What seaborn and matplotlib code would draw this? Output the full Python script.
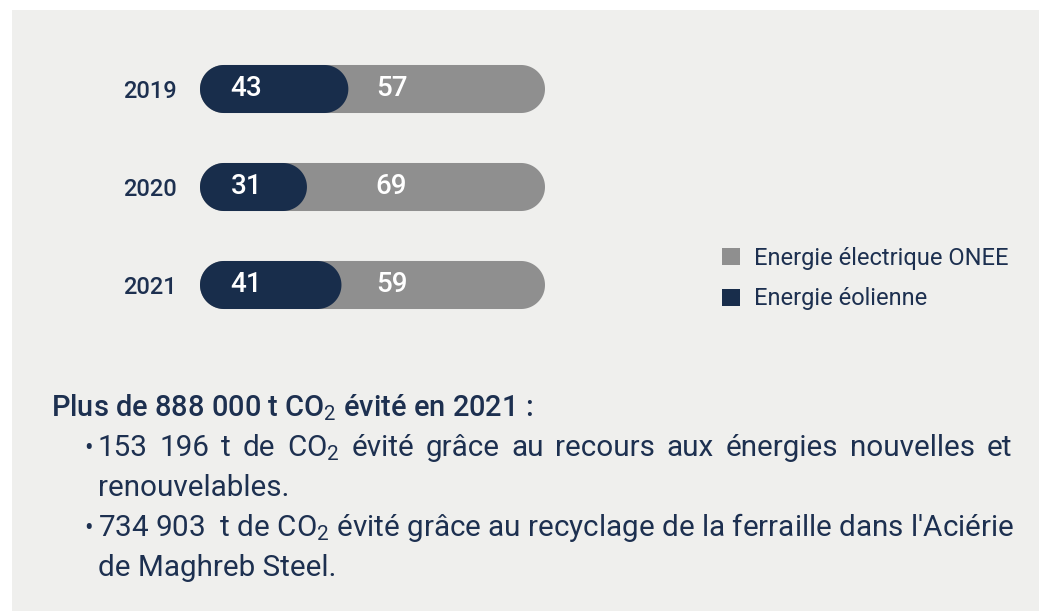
import matplotlib
matplotlib.use("Agg")
import matplotlib.pyplot as plt
import seaborn as sns
import pandas as pd
import numpy as np
from matplotlib.patches import Patch, Rectangle, Polygon

# ---------------- data ----------------
years = ["2019", "2020", "2021"]
eolienne = [43, 31, 41]
onee = [57, 69, 59]
legend_labels = ["Energie électrique ONEE", "Energie éolienne"]
title_text = "Plus de 888 000 t CO$_2$ évité en 2021 :"
bullet1_words = ["153", "196", "t", "de", "CO$_2$", "évité", "grâce", "au",
                 "recours", "aux", "énergies", "nouvelles", "et"]
bullet1_cont = "renouvelables."
bullet2_line = "734 903  t de CO$_2$ évité grâce au recyclage de la ferraille dans l'Aciérie"
bullet2_cont = "de Maghreb Steel."

NAVY = "#182d4b"
GRAY = "#8f8f8f"
BG = "#efefed"
TEXT = "#1d3050"

sns.set_theme(style="white")
plt.rcParams['font.family'] = ['Roboto', 'DejaVu Sans']
plt.rcParams['mathtext.fontset'] = 'custom'
plt.rcParams['mathtext.rm'] = 'Roboto'
plt.rcParams['mathtext.it'] = 'Roboto:italic'
plt.rcParams['mathtext.bf'] = 'Roboto:bold'

W, H = 1039, 611
fig = plt.figure(figsize=(W / 100, H / 100), dpi=100, facecolor='white')
fig.patches.append(Rectangle((12 / W, 0), (W - 12) / W, (H - 10) / H,
                             transform=fig.transFigure, facecolor=BG,
                             edgecolor='none', zorder=-10))

ax = fig.add_axes([200 / W, (H - 334) / H, 345 / W, 294 / H])
ax.set_facecolor('none')

df = pd.DataFrame({"year": years, "eol": eolienne,
                   "total": [e + o for e, o in zip(eolienne, onee)]})
sns.barplot(data=df, x="total", y="year", color=GRAY, width=0.49, ax=ax,
            orient='h', saturation=1, errorbar=None)
sns.barplot(data=df, x="eol", y="year", color=NAVY, width=0.49, ax=ax,
            orient='h', saturation=1, errorbar=None)

ax.set_xlim(0, 100)
ax.set_ylim(2.5, -0.5)

# convert bars to rounded pills (semicircular caps in screen space)
px_x = 345 / 100
px_y = 294 / 3
bar_h = 0.49
r_px = bar_h * px_y / 2
rx = r_px / px_x
ry = bar_h / 2
th = np.linspace(-np.pi / 2, np.pi / 2, 60)
for p in list(ax.patches):
    x, y = p.get_x(), p.get_y()
    w, h = p.get_width(), p.get_height()
    yc = y + h / 2
    fc = p.get_facecolor()
    p.set_visible(False)
    right = np.column_stack([x + w - rx + rx * np.cos(th), yc + ry * np.sin(th)])
    left = np.column_stack([x + rx - rx * np.cos(th[::-1]), yc + ry * np.sin(th[::-1])])
    poly = Polygon(np.vstack([right, left]), closed=True, facecolor=fc,
                   edgecolor='none', zorder=p.get_zorder())
    ax.add_patch(poly)

for i, (e, o) in enumerate(zip(eolienne, onee)):
    ax.text(13.4, i, str(e), ha='center', va='center', color='white',
            fontsize=20, fontweight='medium', zorder=5)
    ax.text(55.5, i, str(o), ha='center', va='center', color='white',
            fontsize=20, fontweight='medium', zorder=5)

ax.set_xlabel("")
ax.set_ylabel("")
ax.set_xticks([])
ax.set_yticks(range(len(years)))
ax.set_yticklabels(years, fontsize=17, fontweight='medium', color=TEXT)
ax.tick_params(axis='y', length=0, pad=16.5)
for s in ax.spines.values():
    s.set_visible(False)

# legend
handles = [Patch(facecolor=GRAY, edgecolor='none', label=legend_labels[0]),
           Patch(facecolor=NAVY, edgecolor='none', label=legend_labels[1])]
fig.legend(handles=handles, loc='upper left',
           bbox_to_anchor=(722 / W, 1 - 247 / H), frameon=False,
           fontsize=17, handlelength=0.76, handleheight=0.76,
           handletextpad=0.59, labelspacing=0.74, borderpad=0,
           borderaxespad=0, labelcolor=TEXT)

# text block
fig.text(51 / W, 1 - 416 / H, title_text, fontsize=20.9, fontweight='medium',
         va='baseline', color=TEXT)

fig.canvas.draw()
renderer = fig.canvas.get_renderer()


def justify(words, x0, x1, ybase, **kw):
    ts = [fig.text(0, 1 - ybase / H, w, va='baseline', ha='left', **kw)
          for w in words]
    widths = [t.get_window_extent(renderer).width for t in ts]
    gap = (x1 - x0 - sum(widths)) / (len(words) - 1)
    x = x0
    for t, wd in zip(ts, widths):
        t.set_x(x / W)
        x += wd + gap


body = dict(fontsize=21.3, color=TEXT)
fig.text(84 / W, 1 - 456 / H, "•", va='baseline', fontsize=18, color=TEXT)
justify(bullet1_words, 98, 1012, 456, **body)
fig.text(98 / W, 1 - 496 / H, bullet1_cont, va='baseline', **body)
fig.text(84 / W, 1 - 536 / H, "•", va='baseline', fontsize=18, color=TEXT)
fig.text(98 / W, 1 - 536 / H, bullet2_line, va='baseline', **body)
fig.text(98 / W, 1 - 576 / H, bullet2_cont, va='baseline', **body)

fig.savefig("out.png", dpi=100, facecolor='white')
